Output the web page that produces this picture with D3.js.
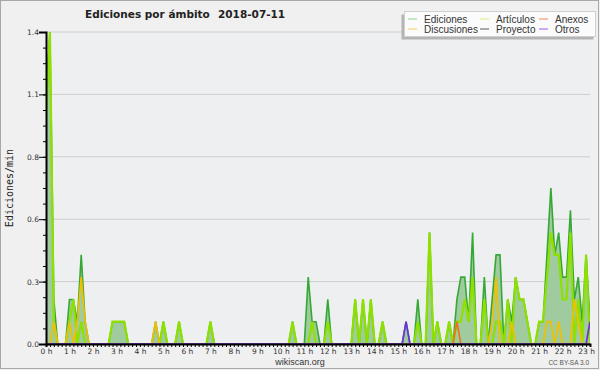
<!DOCTYPE html>
<html>
<head>
<meta charset="utf-8">
<script src="https://cdn.jsdelivr.net/npm/d3@7"></script>
<style>
  body { margin: 0; background: #f0f0f0; }
  svg { display: block; }
</style>
</head>
<body>
<svg id="chart" width="600" height="370"></svg>
<script>
// one value per 10 minutes, 00:00 .. 23:10 (edits per minute)
const hourLabels = ['0 h', '1 h', '2 h', '3 h', '4 h', '5 h', '6 h', '7 h', '8 h', '9 h', '10 h', '11 h',
  '12 h', '13 h', '14 h', '15 h', '16 h', '17 h', '18 h', '19 h', '20 h', '21 h', '22 h', '23 h']

const ediciones = [
  1.1, 1.4, 0.2, 0, 0, 0,
  0.2, 0.2, 0.1, 0.4, 0.1, 0,
  0, 0, 0, 0, 0, 0.1,
  0.1, 0.1, 0.1, 0, 0, 0,
  0, 0, 0, 0, 0.1, 0,
  0.1, 0, 0, 0, 0.1, 0,
  0, 0, 0, 0, 0, 0,
  0.1, 0, 0, 0, 0, 0,
  0, 0, 0, 0, 0, 0,
  0, 0, 0, 0, 0, 0,
  0, 0, 0, 0.1, 0, 0,
  0, 0.3, 0.1, 0.1, 0, 0,
  0.2, 0, 0, 0, 0, 0,
  0, 0.2, 0, 0.2, 0, 0.2,
  0, 0, 0.1, 0, 0, 0,
  0, 0, 0.1, 0, 0, 0.2,
  0, 0, 0.5, 0, 0.1, 0,
  0, 0.1, 0, 0.2, 0.3, 0.3,
  0.1, 0.5, 0, 0, 0.3, 0,
  0.2, 0.4, 0.4, 0, 0.2, 0.1,
  0.3, 0.2, 0.2, 0.1, 0, 0,
  0.1, 0.1, 0.4, 0.7, 0.4, 0.5,
  0.3, 0.3, 0.6, 0.2, 0.3, 0.1,
  0.4, 0.1
]
const articulos = [
  1.0, 1.4, 0.1, 0, 0, 0,
  0.1, 0.2, 0, 0.1, 0, 0,
  0, 0, 0, 0, 0, 0.1,
  0.1, 0.1, 0.1, 0, 0, 0,
  0, 0, 0, 0, 0, 0,
  0.1, 0, 0, 0, 0.1, 0,
  0, 0, 0, 0, 0, 0,
  0.1, 0, 0, 0, 0, 0,
  0, 0, 0, 0, 0, 0,
  0, 0, 0, 0, 0, 0,
  0, 0, 0, 0.1, 0, 0,
  0, 0, 0.1, 0, 0, 0,
  0.1, 0, 0, 0, 0, 0,
  0, 0.2, 0, 0.2, 0, 0.2,
  0, 0, 0.1, 0, 0, 0,
  0, 0, 0, 0, 0, 0.1,
  0, 0, 0.5, 0, 0.1, 0,
  0, 0.1, 0, 0.1, 0.1, 0.2,
  0.1, 0.3, 0, 0, 0.2, 0,
  0, 0.1, 0.1, 0, 0.2, 0,
  0.3, 0.2, 0.2, 0.1, 0, 0,
  0.1, 0.1, 0.3, 0.5, 0.4, 0.4,
  0.2, 0.2, 0.5, 0, 0.2, 0,
  0.4, 0
]
const anexos = [
  0, 0, 0, 0, 0, 0,  0, 0, 0, 0, 0, 0,  0, 0, 0, 0, 0, 0,  0, 0, 0, 0, 0, 0,
  0, 0, 0, 0, 0, 0,  0, 0, 0, 0, 0, 0,  0, 0, 0, 0, 0, 0,  0, 0, 0, 0, 0, 0,
  0, 0, 0, 0, 0, 0,  0, 0, 0, 0, 0, 0,  0, 0, 0, 0, 0, 0,  0, 0, 0, 0, 0, 0,
  0, 0, 0, 0, 0, 0,  0, 0, 0, 0, 0, 0,  0, 0, 0, 0, 0, 0,  0, 0, 0, 0, 0, 0,
  0, 0, 0, 0, 0, 0,  0, 0, 0, 0.1, 0, 0,  0, 0, 0, 0, 0, 0,  0, 0, 0, 0, 0, 0,
  0, 0, 0, 0, 0, 0,  0, 0, 0, 0, 0, 0,  0, 0, 0, 0, 0, 0,  0, 0
]
const discusiones = [
  0, 0, 0.1, 0, 0, 0,  0.1, 0, 0.1, 0.3, 0.1, 0,  0, 0, 0, 0, 0, 0,  0, 0, 0, 0, 0, 0,
  0, 0, 0, 0, 0.1, 0,  0, 0, 0, 0, 0, 0,  0, 0, 0, 0, 0, 0,  0, 0, 0, 0, 0, 0,
  0, 0, 0, 0, 0, 0,  0, 0, 0, 0, 0, 0,  0, 0, 0, 0, 0, 0,  0, 0, 0, 0, 0, 0,
  0, 0, 0, 0, 0, 0,  0, 0, 0, 0, 0, 0,  0, 0, 0, 0, 0, 0,  0, 0, 0, 0, 0, 0,
  0, 0, 0, 0, 0, 0,  0, 0, 0, 0, 0, 0,  0, 0, 0, 0, 0, 0,  0.1, 0.3, 0, 0, 0, 0.1,
  0, 0, 0, 0, 0, 0,  0, 0, 0.1, 0.1, 0, 0.1,  0, 0, 0, 0.2, 0.1, 0,  0, 0
]
const proyecto = [
  0, 0, 0, 0, 0, 0,  0, 0, 0, 0, 0, 0,  0, 0, 0, 0, 0, 0,  0, 0, 0, 0, 0, 0,
  0, 0, 0, 0, 0, 0,  0, 0, 0, 0, 0, 0,  0, 0, 0, 0, 0, 0,  0, 0, 0, 0, 0, 0,
  0, 0, 0, 0, 0, 0,  0, 0, 0, 0, 0, 0,  0, 0, 0, 0, 0, 0,  0, 0, 0, 0, 0, 0,
  0, 0, 0, 0, 0, 0,  0, 0, 0, 0, 0, 0,  0, 0, 0, 0, 0, 0,  0, 0, 0, 0, 0, 0,
  0, 0, 0, 0, 0, 0,  0, 0, 0, 0, 0, 0,  0, 0, 0, 0, 0, 0,  0, 0, 0, 0, 0, 0,
  0, 0, 0, 0, 0, 0,  0, 0, 0, 0, 0, 0,  0, 0, 0, 0, 0, 0,  0, 0
]
const otros = [
  0, 0, 0, 0, 0, 0,  0, 0, 0, 0, 0, 0,  0, 0, 0, 0, 0, 0,  0, 0, 0, 0, 0, 0,
  0, 0, 0, 0, 0, 0,  0, 0, 0, 0, 0, 0,  0, 0, 0, 0, 0, 0,  0, 0, 0, 0, 0, 0,
  0, 0, 0, 0, 0, 0,  0, 0, 0, 0, 0, 0,  0, 0, 0, 0, 0, 0,  0, 0, 0, 0, 0, 0,
  0, 0, 0, 0, 0, 0,  0, 0, 0, 0, 0, 0,  0, 0, 0, 0, 0, 0,  0, 0, 0.1, 0, 0, 0,
  0, 0, 0, 0, 0, 0,  0, 0, 0, 0, 0, 0,  0, 0, 0, 0, 0, 0,  0, 0, 0, 0, 0, 0,
  0, 0, 0, 0, 0, 0,  0, 0, 0, 0, 0, 0,  0, 0, 0, 0, 0, 0,  0, 0.1
]
const yTicks = [0, 0.28, 0.56, 0.84, 1.12, 1.4]

const svg = d3.select('#chart')
const margin = { top: 32, right: 10, bottom: 26, left: 46 }
const W = 600, H = 370

// frame
svg.append('rect').attr('x', 0.5).attr('y', 0.5).attr('width', W - 2).attr('height', H - 2)
  .attr('fill', '#f0f0f0').attr('stroke', '#a8a8a8')

const x = d3.scaleLinear().domain([0, ediciones.length - 1]).range([margin.left, W - margin.right])
const y = d3.scaleLinear().domain([0, 1.4]).range([H - margin.bottom, margin.top])

svg.append('rect').attr('x', margin.left).attr('y', margin.top)
  .attr('width', W - margin.right - margin.left).attr('height', y(0) - margin.top)
  .attr('fill', '#eeeff1')

// grid
svg.append('g').selectAll('line').data(yTicks.slice(1)).join('line')
  .attr('x1', margin.left).attr('x2', W - margin.right)
  .attr('y1', d => y(d)).attr('y2', d => y(d))
  .attr('stroke', '#cdcdcd').attr('stroke-width', 1)

svg.append('clipPath').attr('id', 'clip').append('rect')
  .attr('x', margin.left).attr('y', 0).attr('width', W - margin.right - margin.left).attr('height', y(0))

const plot = svg.append('g').attr('clip-path', 'url(#clip)')

const area = d3.area().x((d, i) => x(i)).y0(y(0)).y1(d => y(d))
const line = d3.line().x((d, i) => x(i)).y(d => y(d))

plot.append('path').datum(ediciones).attr('d', area).attr('fill', '#9fcb9f')
plot.append('path').datum(ediciones).attr('d', line)
  .attr('fill', 'none').attr('stroke', '#36a836').attr('stroke-width', 1.6)

const series = [
  { values: articulos, color: '#8ee000', width: 2.2 },
  { values: anexos, color: '#f07018', width: 1.6 },
  { values: discusiones, color: '#f0c000', width: 1.7 },
  { values: proyecto, color: '#555555', width: 1.5 },
  { values: otros, color: '#7030e0', width: 1.7 }
]
series.forEach(s => {
  plot.append('path').datum(s.values).attr('d', line)
    .attr('fill', 'none').attr('stroke', s.color).attr('stroke-width', s.width)
})

// y axis
const yMinor = d3.range(0, 1.4001, 0.07)
svg.append('g').attr('transform', `translate(${margin.left},0)`)
  .call(d3.axisLeft(y).tickValues(yMinor).tickSize(3).tickFormat(''))
  .call(g => g.select('.domain').remove())
svg.append('g').attr('transform', `translate(${margin.left},0)`)
  .call(d3.axisLeft(y).tickValues(yTicks).tickSize(7).tickPadding(0).tickFormat(d3.format('.1f')))
  .call(g => g.select('.domain').attr('stroke-width', 2))
  .call(g => g.selectAll('text').attr('font-family', 'DejaVu Sans').attr('font-size', 7.5).attr('fill', '#333'))

// x axis
svg.append('g').attr('transform', `translate(0,${y(0)})`)
  .call(d3.axisBottom(x).tickValues(d3.range(ediciones.length)).tickSize(3).tickPadding(2)
    .tickFormat(i => i % 6 === 0 ? hourLabels[i / 6] : ''))
  .call(g => g.select('.domain').attr('stroke-width', 2))
  .call(g => g.selectAll('text').attr('font-family', 'DejaVu Sans').attr('font-size', 7.5).attr('fill', '#333'))

svg.append('text').attr('transform', `translate(13,188) rotate(-90)`)
  .attr('text-anchor', 'middle').attr('font-family', 'DejaVu Sans Mono').attr('font-size', 10)
  .attr('fill', '#222').text('Ediciones/min')

// title
const title = svg.append('text').attr('x', 85).attr('y', 18)
  .attr('font-family', 'DejaVu Sans').attr('font-weight', 'bold').attr('font-size', 10.5).attr('fill', '#222')
title.append('tspan').text('Ediciones por ámbito')
title.append('tspan').attr('x', 218).text('2018-07-11')

svg.append('text').attr('x', 300).attr('y', 365).attr('text-anchor', 'middle')
  .attr('font-family', 'Liberation Sans').attr('font-size', 9).attr('fill', '#333').text('wikiscan.org')
svg.append('text').attr('x', 589).attr('y', 365).attr('text-anchor', 'end')
  .attr('font-family', 'Liberation Sans').attr('font-size', 6.5).attr('fill', '#555').text('CC BY-SA 3.0')

// legend
const legendItems = [
  { name: 'Ediciones', color: '#8fd08f' },
  { name: 'Artículos', color: '#d2f07a' },
  { name: 'Anexos', color: '#f08a58' },
  { name: 'Discusiones', color: '#f4d058' },
  { name: 'Proyecto', color: '#5a5a5a' },
  { name: 'Otros', color: '#9a5cf0' }
]
const colX = [408, 480, 539]
const rowY = [19, 29]
const lg = svg.append('g')
lg.append('rect').attr('x', 401.5).attr('y', 14.5).attr('width', 192).attr('height', 25).attr('fill', '#b4b4b4')
lg.append('rect').attr('x', 404.5).attr('y', 11.5).attr('width', 191).attr('height', 25)
  .attr('fill', '#fbfbfb').attr('stroke', '#d0d0d0')
legendItems.forEach((d, i) => {
  const cx = colX[i % 3], cy = rowY[Math.floor(i / 3)]
  lg.append('line').attr('x1', cx).attr('x2', cx + 9).attr('y1', cy).attr('y2', cy)
    .attr('stroke', d.color).attr('stroke-width', 1)
  lg.append('text').attr('x', cx + 16).attr('y', cy + 3.5)
    .attr('font-family', 'Liberation Sans').attr('font-size', 10).attr('fill', '#333').text(d.name)
})
</script>
</body>
</html>
